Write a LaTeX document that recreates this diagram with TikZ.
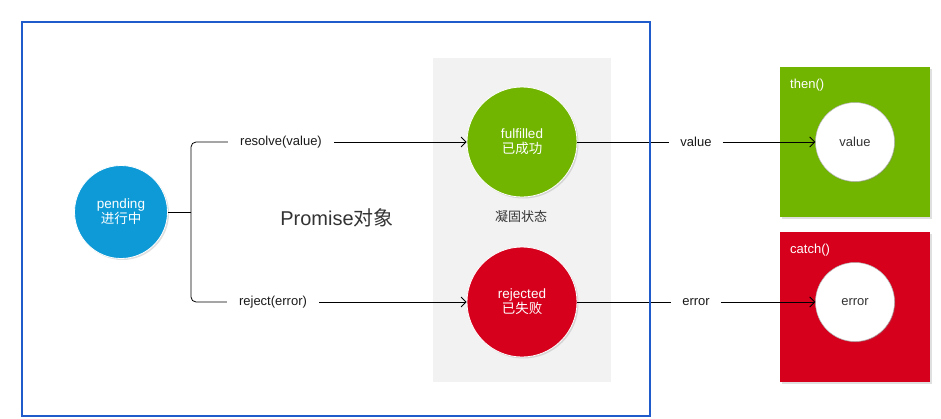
\documentclass[tikz,border=0pt]{standalone}
\usepackage{fontspec}
\setmainfont{Liberation Sans}
\newfontfamily\cjk{Noto Sans CJK SC}
\usepackage{tikz}
\usetikzlibrary{arrows.meta, positioning, shadows}
\definecolor{frameblue}{HTML}{1F5BCB}
\definecolor{pendblue}{HTML}{0E9AD7}
\definecolor{okgreen}{HTML}{71B500}
\definecolor{errred}{HTML}{D6001C}
\definecolor{panelgray}{HTML}{F2F2F2}

\begin{document}
\begin{tikzpicture}[x=1pt, y=-1pt,
  state/.style={circle, draw=white, line width=0.8pt, minimum size=110pt,
                inner sep=0pt, text=white, align=center,
                font=\fontsize{13.5}{15}\selectfont,
                drop shadow={opacity=0.25, shadow xshift=1.5pt, shadow yshift=-1.5pt}},
  slot/.style={circle, draw=gray!60, fill=white, line width=0.5pt,
               minimum size=79pt, inner sep=0pt, text=black!80,
               font=\fontsize{13}{15}\selectfont,
               drop shadow={opacity=0.2, shadow xshift=1pt, shadow yshift=-1pt}},
  handler/.style={rectangle, minimum width=150pt, minimum height=150pt,
                  inner sep=0pt,
                  drop shadow={opacity=0.25, shadow xshift=2pt, shadow yshift=-2pt}},
  lbl/.style={font=\fontsize{13}{15}\selectfont, text=black!90,
              inner xsep=12pt, inner ysep=2pt},
  line/.style={draw=black, line width=0.8pt},
  arr/.style={line, -{Straight Barb[length=5pt, width=10pt, line width=0.8pt]}}
]
\useasboundingbox (0,0) rectangle (941,418);

% Settled panel
\fill[panelgray] (433,58) rectangle (611,382);
\node[font=\fontsize{13}{15}\selectfont\cjk, text=black!80] (frozen) at (521,217) {凝固状态};

% Promise title
\node[font=\fontsize{20}{24}\selectfont, text=black!80] (title) at (337,218)
  {Promise{\cjk 对象}};

% States
\node[state, fill=pendblue, minimum size=93pt] (pend) at (121,212)
  {pending\\{\cjk 进行中}};
\node[state, fill=okgreen] (ful) at (522,142) {fulfilled\\{\cjk 已成功}};
\node[state, fill=errred] (rej) at (522,302) {rejected\\{\cjk 已失败}};

% Handlers
\node[handler, fill=okgreen] (thenbox) at (855,142) {};
\node[handler, fill=errred] (catchbox) at (855,307) {};
\node[anchor=west, inner sep=0pt, text=white, font=\fontsize{13}{15}\selectfont]
  (thenlbl) at (790,85) {then()};
\node[anchor=west, inner sep=0pt, text=white, font=\fontsize{13}{15}\selectfont]
  (catchlbl) at (790,250) {catch()};
\node[slot] (vslot) at (855,142) {value};
\node[slot] (eslot) at (855,302) {error};

% Fork
\coordinate (fork) at (191,212);
\node[lbl] (res) at (281,142) {resolve(value)};
\node[lbl] (rjt) at (273,302) {reject(error)};
\draw[line] (pend.east) -- (fork);
\draw[line, rounded corners=5pt] (fork) |- (res.west);
\draw[line, rounded corners=5pt] (fork) |- (rjt.west);
\draw[arr] (res.east) -- (ful.west);
\draw[arr] (rjt.east) -- (rej.west);

% Results
\node[lbl, inner xsep=11pt] (val) at (696,142) {value};
\node[lbl, inner xsep=11pt] (err) at (696,302) {error};
\draw[line] (ful.east) -- (val.west);
\draw[arr] (val.east) -- (vslot.west);
\draw[line] (rej.east) -- (err.west);
\draw[arr] (err.east) -- (eslot.west);

% Promise frame
\draw[frameblue, line width=2pt] (22,22) rectangle (650,416);

\end{tikzpicture}
\end{document}
